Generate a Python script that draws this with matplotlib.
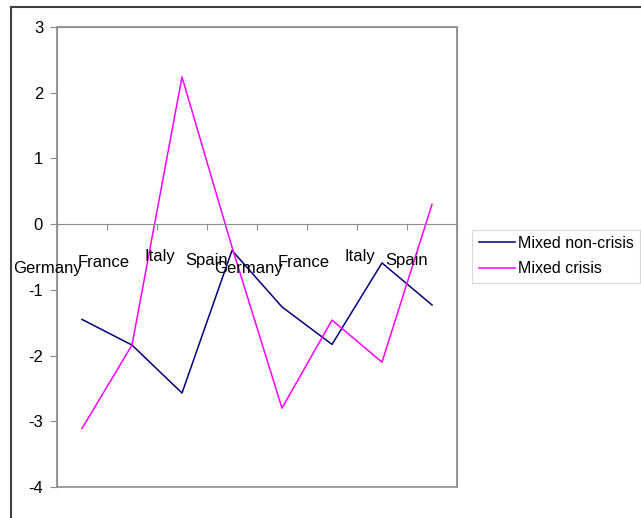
import numpy as np
import matplotlib.pyplot as plt
from matplotlib.patches import Rectangle

# categories (two groups of four countries)
countries = ["Germany", "France", "Italy", "Spain", "Germany", "France", "Italy", "Spain"]

# values
non_crisis = [-1.45, -1.84, -2.57, -0.40, -1.26, -1.83, -0.59, -1.23]
crisis = [-3.11, -1.84, 2.24, -0.35, -2.80, -1.46, -2.10, 0.30]

plt.rcParams['font.family'] = ['Liberation Sans', 'DejaVu Sans']
plt.rcParams['axes.unicode_minus'] = False

fig = plt.figure(figsize=(6.41, 5.18), dpi=100)
ax = fig.add_axes([57/641, 31/518, 400/641, 460/518])

x = np.arange(len(countries))
ax.plot(x, non_crisis, color="#000080", lw=1.1, label="Mixed non-crisis")
ax.plot(x, crisis, color="#FF00FF", lw=1.1, label="Mixed crisis")

ax.set_xlim(-0.5, len(countries) - 0.5)
ax.set_ylim(-4, 3)
ax.set_yticks(range(-4, 4))

grey = "#8c8c8c"
# category axis crosses at zero, like excel
ax.spines['bottom'].set_position(('data', 0))
for s in ax.spines.values():
    s.set_color(grey)
ax.add_patch(Rectangle((0, 0), 1, 1, transform=ax.transAxes, fill=False,
                       edgecolor=grey, lw=1.2, clip_on=False))
ax.set_xticks(np.arange(-0.5, len(countries)))
ax.set_xticklabels([])
ax.tick_params(axis='x', direction='out', length=4, color=grey)
ax.tick_params(axis='y', direction='out', length=5, color=grey, pad=5, labelsize=12)

# category labels sit under the zero line, staggered a little
label_y = [-0.67, -0.59, -0.49, -0.55]
nudge = [-0.18, -0.06, 0.06, 0.0]
for i, name in enumerate(countries):
    ax.text(i - 0.5 + nudge[i % 4], label_y[i % 4], name, ha='center', va='center',
            fontsize=12, clip_on=False)

leg = ax.legend(loc='center left', bbox_to_anchor=(1.03, 0.502), fontsize=11.5,
                frameon=True, fancybox=False, edgecolor="#d0d0d0",
                handlelength=2.3, handletextpad=0.15, borderpad=0.4, labelspacing=0.65,
                borderaxespad=0.2)
leg.get_frame().set_linewidth(0.8)

# outer chart border (cut off at right and bottom)
fig.add_artist(Rectangle((11/641, -0.1), 1.2, (518 - 7)/518 + 0.1, transform=fig.transFigure,
                         fill=False, edgecolor="#404040", lw=1.5, clip_on=False))

fig.savefig("out.png", dpi=100)
